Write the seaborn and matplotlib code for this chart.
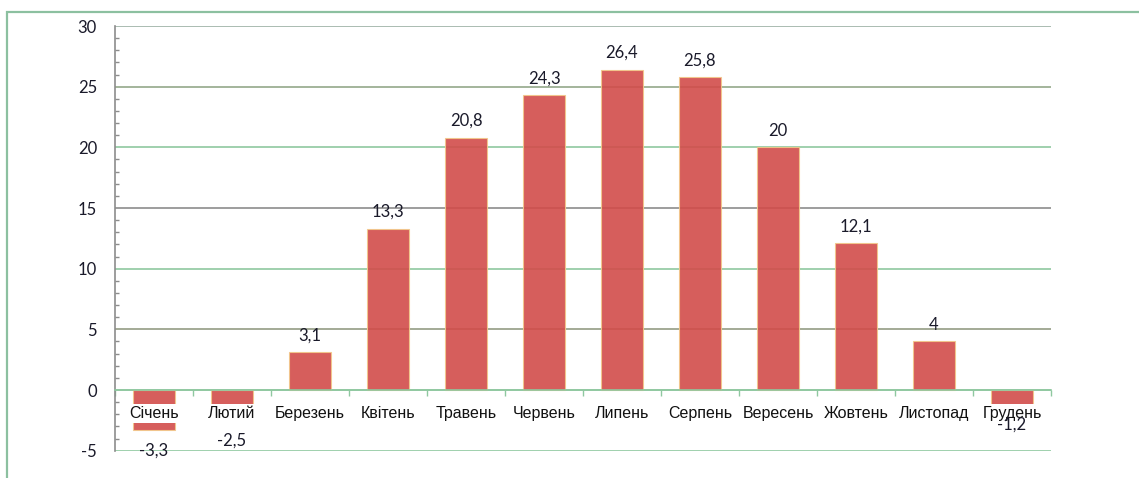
import matplotlib
matplotlib.use("Agg")
import matplotlib.pyplot as plt
import seaborn as sns
import pandas as pd
from matplotlib.patches import Rectangle
from matplotlib.ticker import MultipleLocator

# Monthly values
months = ["Січень", "Лютий", "Березень", "Квітень", "Травень", "Червень",
          "Липень", "Серпень", "Вересень", "Жовтень", "Листопад", "Грудень"]
values = [-3.3, -2.5, 3.1, 13.3, 20.8, 24.3, 26.4, 25.8, 20.0, 12.1, 4.0, -1.2]
y_ticks = [-5, 0, 5, 10, 15, 20, 25, 30]

# gridline colours per level (alternating like the original)
grid_colors = ["#8fc8a0", "#8fc8a0", "#949c84", "#8fc8a0",
               "#8c8c8c", "#8fc8a0", "#94a88a", "#9cb0a4"]

df = pd.DataFrame({"month": months, "value": values})

sns.set_style("white")
plt.rcParams["font.family"] = ["Lato", "DejaVu Sans"]
plt.rcParams["axes.unicode_minus"] = False

fig = plt.figure(figsize=(11.39, 4.78), dpi=100)
ax = fig.add_axes([0.101, 0.0571, 0.8217, 0.8885])

# green outer frame
fig.patches.append(Rectangle((0.0062, -0.1), 1.2, 1.0749, transform=fig.transFigure,
                             fill=False, edgecolor="#8cc0a0", linewidth=1.6))

for lvl, col in zip(y_ticks, grid_colors):
    ax.axhline(lvl, color=col, linewidth=1.2, zorder=1)

sns.barplot(data=df, x="month", y="value", color="#d24c4a", width=0.55,
            alpha=0.9, edgecolor="#f2c88a", linewidth=0.8, saturation=1,
            ax=ax, zorder=2)

ax.set_xlim(-0.5, len(months) - 0.5)
ax.set_ylim(-5, 30)
ax.set_yticks(y_ticks)
ax.yaxis.set_minor_locator(MultipleLocator(1))
ax.tick_params(axis="y", which="major", direction="out", length=5, width=1,
               color="#8c8c8c", pad=8, labelsize=12, labelcolor="#1a1a2a")
ax.tick_params(axis="y", which="minor", direction="in", length=3, width=1,
               color="#8c8c8c", left=True)

# x axis sits at zero, ticks at category boundaries
ax.spines["bottom"].set_position(("data", 0))
ax.spines["bottom"].set_color("#8fc8a0")
ax.spines["bottom"].set_linewidth(1.2)
ax.set_xticks([i - 0.5 for i in range(len(months) + 1)])
ax.set_xticklabels([])
ax.tick_params(axis="x", direction="out", length=4, width=1, color="#8fc8a0",
               bottom=True)
ax.spines["left"].set_color("#8c8c8c")
ax.spines["left"].set_linewidth(1.2)
ax.spines["top"].set_visible(False)
ax.spines["right"].set_visible(False)
ax.set_xlabel("")
ax.set_ylabel("")

# category names just under the zero line, with white box
for i, m in enumerate(months):
    ax.text(i, -1.9, m, ha="center", va="center", fontsize=11.5,
            family=["Liberation Sans", "DejaVu Sans"], color="#111111",
            bbox=dict(facecolor="white", edgecolor="none", pad=1.5), zorder=4)

# value labels
for i, v in enumerate(values):
    txt = f"{v:g}".replace(".", ",")
    off = 12 if v >= 0 else -14.5
    ax.annotate(txt, (i, v), xytext=(0, off), textcoords="offset points",
                ha="center", va="center", fontsize=12, color="#1a1a2a", zorder=5)

fig.savefig("out.png", dpi=100)
